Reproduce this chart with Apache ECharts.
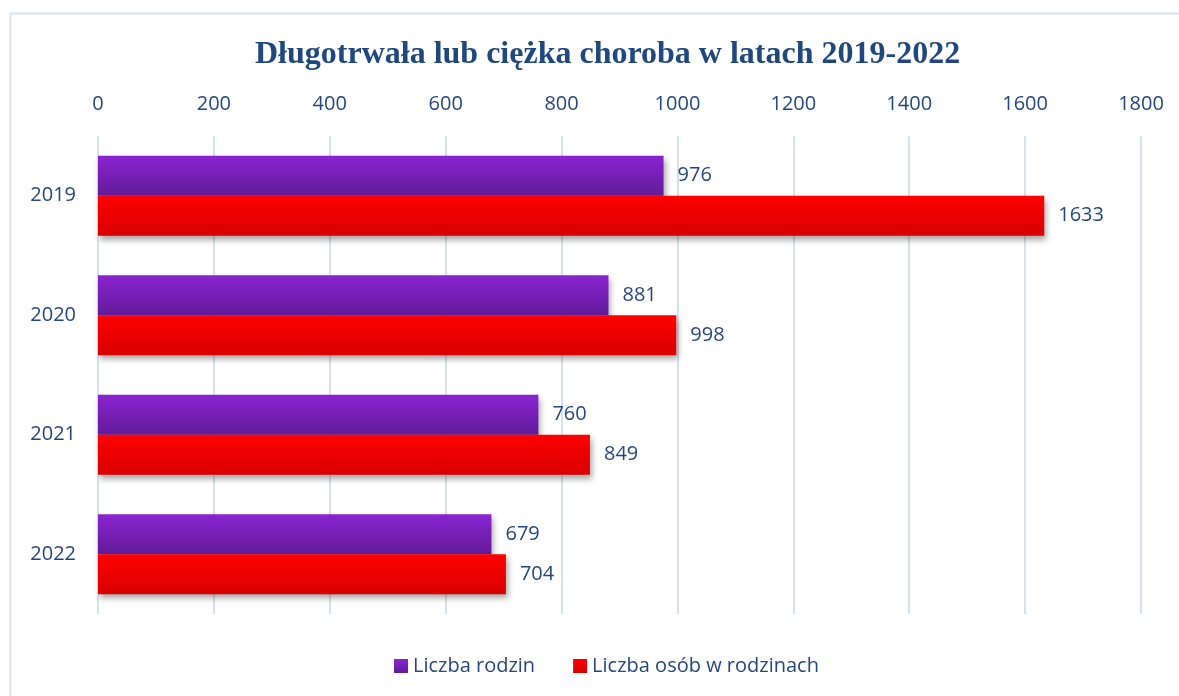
<!DOCTYPE html>
<html>
<head>
<meta charset="utf-8">
<script src="https://cdn.jsdelivr.net/npm/echarts@6/dist/echarts.min.js"></script>
<style>
html,body{margin:0;padding:0;background:#fff;}
#chart{width:1179px;height:696px;}
</style>
</head>
<body>
<div id="chart"></div>
<script>
var title = 'Długotrwała lub ciężka choroba w latach 2019-2022';
var categories = ['2019', '2020', '2021', '2022'];
var seriesNames = ['Liczba rodzin', 'Liczba osób w rodzinach'];
var rodziny = [976, 881, 760, 679];
var osoby = [1633, 998, 849, 704];
var axisMin = 0, axisMax = 1800, axisStep = 200;

var textColor = '#24487c';
var labelFont = 'Open Sans';

function grad(top, bottom) {
  return new echarts.graphic.LinearGradient(0, 0, 0, 1, [
    {offset: 0, color: top}, {offset: 1, color: bottom}
  ]);
}
var barShadow = {shadowColor: 'rgba(0,0,0,0.35)', shadowBlur: 6, shadowOffsetX: 2, shadowOffsetY: 4};

var chart = echarts.init(document.getElementById('chart'), null, {renderer: 'canvas'});
chart.setOption({
  animation: false,
  backgroundColor: '#fff',
  graphic: [{
    type: 'rect', silent: true, z: -1,
    shape: {x: 10.5, y: 13.5, width: 1300, height: 800},
    style: {fill: 'none', stroke: '#d9e4f3', lineWidth: 2}
  }],
  title: {
    text: title, left: 250, top: 34,
    textStyle: {fontFamily: 'Liberation Serif', fontWeight: 'bold', fontSize: 32, color: '#1f497d'}
  },
  legend: {
    bottom: 15, left: 389, itemWidth: 14, itemHeight: 14, itemGap: 38,
    icon: 'rect',
    textStyle: {fontFamily: labelFont, fontSize: 20, color: textColor},
    data: seriesNames
  },
  grid: {left: 98, right: 38, top: 136, bottom: 82, containLabel: false},
  xAxis: {
    type: 'value', position: 'top', min: axisMin, max: axisMax, interval: axisStep,
    axisLine: {show: false}, axisTick: {show: false},
    axisLabel: {fontFamily: labelFont, fontSize: 20, color: textColor, margin: 22,
      formatter: function (v) { return String(v); }},
    splitLine: {show: true, lineStyle: {color: '#d6e2f2', width: 2}}
  },
  yAxis: {
    type: 'category', inverse: true, data: categories,
    axisLine: {show: false}, axisTick: {show: false},
    axisLabel: {fontFamily: labelFont, fontSize: 20, color: textColor, margin: 22}
  },
  series: [{
    name: seriesNames[0], type: 'bar', data: rodziny, barWidth: 40, barGap: '0%',
    itemStyle: Object.assign({color: grad('#8a24d2', '#611b98')}, barShadow),
    label: {show: true, position: 'right', distance: 14, fontFamily: labelFont, fontSize: 20, color: textColor}
  }, {
    name: seriesNames[1], type: 'bar', data: osoby, barWidth: 40, barGap: '0%',
    itemStyle: Object.assign({color: grad('#ff0000', '#d80000')}, barShadow),
    label: {show: true, position: 'right', distance: 14, fontFamily: labelFont, fontSize: 20, color: textColor}
  }]
});
</script>
</body>
</html>
